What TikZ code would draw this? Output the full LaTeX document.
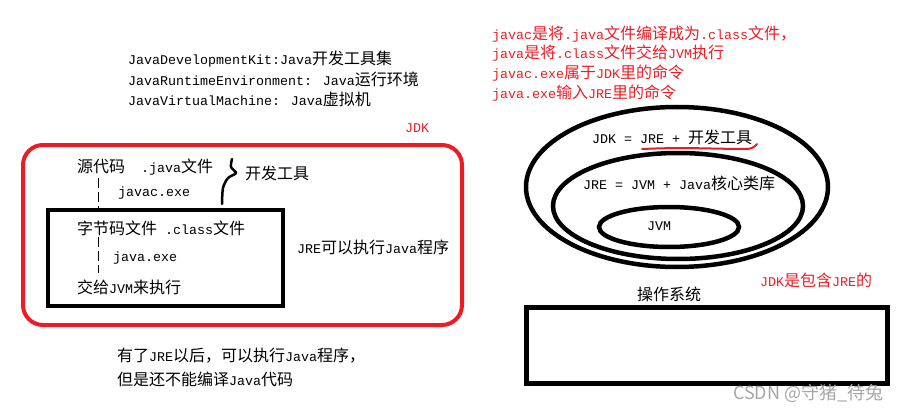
\documentclass[tikz,border=0pt]{standalone}
\usepackage{fontspec}
\setmainfont{Noto Sans CJK SC}
\newfontfamily\monofont{Liberation Mono}[Scale=0.8333]
\usetikzlibrary{shapes.geometric}
\definecolor{paintred}{RGB}{237,28,36}
\newcommand{\en}[1]{{\monofont #1}}

\begin{document}
\begin{tikzpicture}[x=1pt,y=-1pt,
        every node/.style={inner sep=0,anchor=west,font=\fontsize{16}{20}\selectfont},
        note/.style={text=paintred},
        jbox/.style={draw,anchor=center,line width=4pt},
        ring/.style={draw,ellipse,anchor=center,line width=4.5pt},
        link/.style={dash pattern=on 10pt off 4pt,line width=0.8pt}]
        \useasboundingbox (0,0) rectangle (906,412);

        % Left
        \node (jdk) at (128,59) {\en{JavaDevelopmentKit:Java}开发工具集};
        \node (jre) at (128,79) {\en{JavaRuntimeEnvironment: Java}运行环境};
        \node (jvm) at (128,99) {\en{JavaVirtualMachine: Java}虚拟机};
        \node[note] (jdktag) at (405,128) {\en{JDK}};

        \node[jbox,draw=paintred,rounded corners=20pt,minimum width=439pt,minimum height=180pt] (jdkbox) at (242.5,235) {};
        \node[jbox,minimum width=235pt,minimum height=96pt] (jrebox) at (165.5,258) {};

        \node (src) at (77,167) {源代码\en{~~.java}文件};
        \node (javac) at (118,193) {\en{javac.exe}};
        \node (tools) at (245,173) {开发工具};
        \node (cls) at (77,228) {字节码文件\en{~.class}文件};
        \node (java) at (113,258) {\en{java.exe}};
        \node (run) at (77,287) {交给\en{JVM}来执行};
        \node (canrun) at (297,247) {\en{JRE}可以执行\en{Java}程序};

        \coordinate (srcfoot) at (98,178);
        \coordinate (clsfoot) at (98,237);
        \coordinate (runtop) at (98,273);
        \draw[link] (srcfoot) -- (srcfoot |- jrebox.north); %into the JRE box
        \draw[link] (clsfoot) -- (runtop);
        \draw[line width=2.5pt,line cap=round,line join=round] plot[smooth] coordinates
            {(232,159) (231,167) (236,173) (228,178) (223,188) (222,204)}; %brace

        \node (after) at (117,356) {有了\en{JRE}以后，可以执行\en{Java}程序，};
        \node (but) at (117,379) {但是还不能编译\en{Java}代码};

        % Right
        \node[note] (n1) at (492,34) {\en{javac}是将\en{.java}文件编译成为\en{.class}文件，};
        \node[note] (n2) at (492,53) {\en{java}是将\en{.class}文件交给\en{JVM}执行};
        \node[note] (n3) at (492,73) {\en{javac.exe}属于\en{JDK}里的命令};
        \node[note] (n4) at (492,93) {\en{java.exe}输入\en{JRE}里的命令};

        \node[ring,minimum width=302pt,minimum height=160pt] (jdkring) at (677,187) {};
        \node[ring,minimum width=250pt,minimum height=106pt] (jrering) at (678,206) {};
        \node[ring,minimum width=140pt,minimum height=40pt] (jvmring) at (669,227) {};

        \node (jdkeq) at (592,137) {\en{JDK = JRE + }开发工具};
        \draw[paintred,line width=2pt,line cap=round] plot[smooth] coordinates
            {(642,149) (680,148) (740,149) (752,148) (757,144)}; %underline
        \node (jreeq) at (583,183) {\en{JRE = JVM + Java}核心类库};
        \node (jvmname) at (647,226) {\en{JVM}};
        \node[note] (contains) at (760,280) {\en{JDK}是包含\en{JRE}的};

        \node (os) at (637,294) {操作系统};
        \node[jbox,line width=5pt,minimum width=361pt,minimum height=76pt] (osbox) at (706.5,345) {};
        \node[text=black!35,font=\fontsize{18}{20}\selectfont] (mark) at (733,393) {CSDN @守猪\_待兔};
\end{tikzpicture}
\end{document}
